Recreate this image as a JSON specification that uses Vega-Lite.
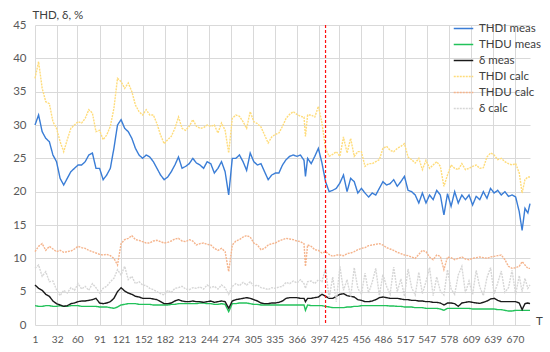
{
  "$schema": "https://vega.github.io/schema/vega-lite/v6.json",
  "width": 495,
  "height": 300,
  "autosize": "none",
  "padding": {"left": 35, "top": 25, "right": 20, "bottom": 27},
  "background": "white",
  "config": {
    "font": "Lato",
    "view": {"stroke": null},
    "axis": {"labelFont": "Lato", "labelFontSize": 11.5, "labelColor": "#595959", "gridColor": "#D9D9D9", "gridWidth": 1, "domain": false, "ticks": false, "titleFont": "Lato", "titleFontSize": 11.5, "titleFontWeight": "normal", "titleColor": "#404040", "labelOverlap": false, "labelSeparation": 0},
    "axisX": {"labelOverlap": false, "labelBound": false},
    "legend": {"labelFont": "Lato", "labelFontSize": 11.5, "labelColor": "#404040"}
  },
  "encoding": {
    "x": {
      "field": "T", "type": "quantitative",
      "scale": {"domain": [1, 691], "nice": false, "zero": false},
      "axis": {
        "values": [1, 32, 60, 91, 121, 152, 182, 213, 244, 274, 305, 335, 366, 397, 425, 456, 486, 517, 547, 578, 609, 639, 670],
        "title": "T", "titleX": 504, "titleY": -4, "titleAlign": "center", "titleBaseline": "middle",
        "labelPadding": 9, "labelFlush": false, "labelOverlap": false, "labelSeparation": 0, "labelFontSize": 10.2, "format": "d"
      }
    }
  },
  "layer": [
    {
      "data": {"values": [
        {"T":1,"THDI meas":30,"THDU meas":2.9,"δ meas":6,"THDI calc":37,"THDU calc":11,"δ calc":8.5},
        {"T":6,"THDI meas":31.5,"THDU meas":2.8,"δ meas":5.5,"THDI calc":39.5,"THDU calc":11.8,"δ calc":9},
        {"T":11,"THDI meas":29,"THDU meas":2.8,"δ meas":5.2,"THDI calc":35.5,"THDU calc":12.2,"δ calc":7.3},
        {"T":16,"THDI meas":28,"THDU meas":2.9,"δ meas":4.6,"THDI calc":33.5,"THDU calc":11.2,"δ calc":8},
        {"T":21,"THDI meas":27.5,"THDU meas":2.9,"δ meas":4.3,"THDI calc":33.2,"THDU calc":11.8,"δ calc":6.5},
        {"T":26,"THDI meas":25.5,"THDU meas":2.8,"δ meas":3.6,"THDI calc":30.5,"THDU calc":11.4,"δ calc":6.6},
        {"T":31,"THDI meas":24.5,"THDU meas":2.8,"δ meas":3.2,"THDI calc":29.5,"THDU calc":11,"δ calc":5.3},
        {"T":36,"THDI meas":22,"THDU meas":2.9,"δ meas":3,"THDI calc":27.5,"THDU calc":11.2,"δ calc":4.4},
        {"T":41,"THDI meas":21,"THDU meas":2.8,"δ meas":2.8,"THDI calc":26,"THDU calc":10.9,"δ calc":5.2},
        {"T":46,"THDI meas":22,"THDU meas":2.8,"δ meas":2.9,"THDI calc":27.8,"THDU calc":11,"δ calc":4.8},
        {"T":51,"THDI meas":23,"THDU meas":2.9,"δ meas":3.2,"THDI calc":29.5,"THDU calc":11.1,"δ calc":5.6},
        {"T":56,"THDI meas":23.5,"THDU meas":2.9,"δ meas":3.3,"THDI calc":30,"THDU calc":11.4,"δ calc":5.2},
        {"T":61,"THDI meas":24,"THDU meas":2.9,"δ meas":3.5,"THDI calc":30.5,"THDU calc":11.8,"δ calc":6.2},
        {"T":66,"THDI meas":24,"THDU meas":2.8,"δ meas":3.6,"THDI calc":30.3,"THDU calc":11.6,"δ calc":5.4},
        {"T":71,"THDI meas":24.5,"THDU meas":2.8,"δ meas":3.6,"THDI calc":31,"THDU calc":11.5,"δ calc":5.8},
        {"T":76,"THDI meas":25.5,"THDU meas":2.8,"δ meas":3.7,"THDI calc":32.3,"THDU calc":11.2,"δ calc":5.2},
        {"T":81,"THDI meas":25.8,"THDU meas":2.8,"δ meas":3.8,"THDI calc":31.8,"THDU calc":11,"δ calc":6.2},
        {"T":86,"THDI meas":23.5,"THDU meas":2.8,"δ meas":4,"THDI calc":29,"THDU calc":10.8,"δ calc":5.6},
        {"T":91,"THDI meas":23.5,"THDU meas":2.7,"δ meas":3.3,"THDI calc":29.2,"THDU calc":10.6,"δ calc":4.8},
        {"T":96,"THDI meas":21.8,"THDU meas":2.7,"δ meas":3.2,"THDI calc":27.8,"THDU calc":10.5,"δ calc":5.5},
        {"T":101,"THDI meas":22.5,"THDU meas":2.7,"δ meas":3.3,"THDI calc":28.5,"THDU calc":10.6,"δ calc":5.8},
        {"T":106,"THDI meas":23.5,"THDU meas":2.6,"δ meas":3.5,"THDI calc":29.8,"THDU calc":10.4,"δ calc":6.5},
        {"T":111,"THDI meas":26.5,"THDU meas":2.5,"δ meas":4,"THDI calc":32.5,"THDU calc":10,"δ calc":7},
        {"T":116,"THDI meas":30,"THDU meas":2.7,"δ meas":5,"THDI calc":37,"THDU calc":9,"δ calc":8.3},
        {"T":121,"THDI meas":30.8,"THDU meas":3,"δ meas":5.6,"THDI calc":36.5,"THDU calc":12.2,"δ calc":7.5},
        {"T":126,"THDI meas":29.5,"THDU meas":3.1,"δ meas":5.1,"THDI calc":35.5,"THDU calc":12.8,"δ calc":8.8},
        {"T":131,"THDI meas":29,"THDU meas":3.2,"δ meas":4.8,"THDI calc":36.3,"THDU calc":13,"δ calc":6.8},
        {"T":136,"THDI meas":28,"THDU meas":3.2,"δ meas":4.6,"THDI calc":35,"THDU calc":13.4,"δ calc":7.3},
        {"T":141,"THDI meas":26.5,"THDU meas":3.2,"δ meas":4.3,"THDI calc":33,"THDU calc":12.8,"δ calc":6.2},
        {"T":146,"THDI meas":25.5,"THDU meas":3.1,"δ meas":4.2,"THDI calc":32,"THDU calc":12.7,"δ calc":6.5},
        {"T":151,"THDI meas":25,"THDU meas":3.1,"δ meas":4,"THDI calc":31.5,"THDU calc":12.5,"δ calc":6},
        {"T":156,"THDI meas":25.5,"THDU meas":3.1,"δ meas":4,"THDI calc":32.3,"THDU calc":12.3,"δ calc":5.9},
        {"T":161,"THDI meas":25.2,"THDU meas":3.1,"δ meas":4,"THDI calc":31.5,"THDU calc":12.3,"δ calc":5.5},
        {"T":166,"THDI meas":24.5,"THDU meas":3,"δ meas":3.9,"THDI calc":31.5,"THDU calc":12.6,"δ calc":5.3},
        {"T":171,"THDI meas":23.5,"THDU meas":3,"δ meas":3.8,"THDI calc":30.2,"THDU calc":12.7,"δ calc":5},
        {"T":176,"THDI meas":22.5,"THDU meas":3,"δ meas":3.5,"THDI calc":28.5,"THDU calc":12.5,"δ calc":4.7},
        {"T":181,"THDI meas":21.8,"THDU meas":3,"δ meas":3.2,"THDI calc":27.2,"THDU calc":12.3,"δ calc":4.5},
        {"T":186,"THDI meas":22.2,"THDU meas":3,"δ meas":3.2,"THDI calc":27.8,"THDU calc":12.4,"δ calc":5.2},
        {"T":191,"THDI meas":23,"THDU meas":3.1,"δ meas":3.3,"THDI calc":28.3,"THDU calc":12.6,"δ calc":4.9},
        {"T":196,"THDI meas":24,"THDU meas":3.1,"δ meas":3.6,"THDI calc":29.5,"THDU calc":12.9,"δ calc":5.5},
        {"T":201,"THDI meas":25.2,"THDU meas":3.2,"δ meas":3.8,"THDI calc":31.2,"THDU calc":13,"δ calc":5.6},
        {"T":206,"THDI meas":23.5,"THDU meas":3.2,"δ meas":3.6,"THDI calc":29.5,"THDU calc":12.6,"δ calc":5.8},
        {"T":211,"THDI meas":23.8,"THDU meas":3.2,"δ meas":3.5,"THDI calc":29.2,"THDU calc":12.5,"δ calc":5.4},
        {"T":216,"THDI meas":24.2,"THDU meas":3.2,"δ meas":3.5,"THDI calc":29.8,"THDU calc":12.8,"δ calc":5.3},
        {"T":221,"THDI meas":25,"THDU meas":3.2,"δ meas":3.6,"THDI calc":30.8,"THDU calc":12.6,"δ calc":5.6},
        {"T":226,"THDI meas":24.3,"THDU meas":3.2,"δ meas":3.5,"THDI calc":29.8,"THDU calc":12,"δ calc":5.5},
        {"T":231,"THDI meas":24,"THDU meas":3.3,"δ meas":3.5,"THDI calc":29.5,"THDU calc":12.2,"δ calc":5.7},
        {"T":236,"THDI meas":23.5,"THDU meas":3.3,"δ meas":3.4,"THDI calc":29.6,"THDU calc":12.3,"δ calc":5.4},
        {"T":241,"THDI meas":24.5,"THDU meas":3.2,"δ meas":3.5,"THDI calc":30,"THDU calc":12.1,"δ calc":6},
        {"T":246,"THDI meas":24.2,"THDU meas":3.2,"δ meas":3.6,"THDI calc":29.8,"THDU calc":12,"δ calc":5.6},
        {"T":251,"THDI meas":22.8,"THDU meas":3.1,"δ meas":3.4,"THDI calc":30,"THDU calc":11.5,"δ calc":5.8},
        {"T":256,"THDI meas":23.5,"THDU meas":3.1,"δ meas":3.5,"THDI calc":28.8,"THDU calc":11.2,"δ calc":5.4},
        {"T":261,"THDI meas":24.5,"THDU meas":3.2,"δ meas":3.6,"THDI calc":30.3,"THDU calc":11.5,"δ calc":6},
        {"T":266,"THDI meas":23,"THDU meas":3.1,"δ meas":3.5,"THDI calc":29.2,"THDU calc":11,"δ calc":5.6},
        {"T":271,"THDI meas":19.5,"THDU meas":2,"δ meas":2.5,"THDI calc":25.8,"THDU calc":8,"δ calc":4.6},
        {"T":276,"THDI meas":25,"THDU meas":3.2,"δ meas":3.6,"THDI calc":31,"THDU calc":12,"δ calc":5.8},
        {"T":281,"THDI meas":25,"THDU meas":3.2,"δ meas":3.8,"THDI calc":31.5,"THDU calc":12.6,"δ calc":6.2},
        {"T":286,"THDI meas":25.5,"THDU meas":3.3,"δ meas":3.9,"THDI calc":31.3,"THDU calc":12.8,"δ calc":5.9},
        {"T":291,"THDI meas":24.5,"THDU meas":3.3,"δ meas":4,"THDI calc":30.5,"THDU calc":13.2,"δ calc":6.4},
        {"T":296,"THDI meas":23.2,"THDU meas":3.3,"δ meas":4.1,"THDI calc":29.5,"THDU calc":13.4,"δ calc":6},
        {"T":301,"THDI meas":25.8,"THDU meas":3.2,"δ meas":4,"THDI calc":32,"THDU calc":13.2,"δ calc":6.5},
        {"T":306,"THDI meas":24.5,"THDU meas":3.1,"δ meas":3.8,"THDI calc":30.5,"THDU calc":12.3,"δ calc":5.8},
        {"T":311,"THDI meas":24,"THDU meas":3.1,"δ meas":3.6,"THDI calc":30.2,"THDU calc":12,"δ calc":6},
        {"T":316,"THDI meas":24.2,"THDU meas":3,"δ meas":3.3,"THDI calc":29.7,"THDU calc":11.3,"δ calc":5.6},
        {"T":321,"THDI meas":23,"THDU meas":3,"δ meas":3.2,"THDI calc":28.5,"THDU calc":11.5,"δ calc":5.5},
        {"T":326,"THDI meas":21.8,"THDU meas":3,"δ meas":3.2,"THDI calc":27.3,"THDU calc":12,"δ calc":5.3},
        {"T":331,"THDI meas":22.5,"THDU meas":3,"δ meas":3.3,"THDI calc":28.2,"THDU calc":12.2,"δ calc":5.6},
        {"T":336,"THDI meas":22.8,"THDU meas":3,"δ meas":3.3,"THDI calc":28.6,"THDU calc":12.3,"δ calc":5.5},
        {"T":341,"THDI meas":22.8,"THDU meas":3,"δ meas":3.4,"THDI calc":28.8,"THDU calc":12.6,"δ calc":5.7},
        {"T":346,"THDI meas":24,"THDU meas":3,"δ meas":3.6,"THDI calc":29.8,"THDU calc":12.8,"δ calc":5.8},
        {"T":351,"THDI meas":24.8,"THDU meas":3,"δ meas":4,"THDI calc":31,"THDU calc":13,"δ calc":6.4},
        {"T":356,"THDI meas":25.3,"THDU meas":3,"δ meas":4.1,"THDI calc":31.6,"THDU calc":12.9,"δ calc":6.2},
        {"T":361,"THDI meas":25.5,"THDU meas":3,"δ meas":4.1,"THDI calc":32,"THDU calc":12.8,"δ calc":6.6},
        {"T":366,"THDI meas":25.3,"THDU meas":3,"δ meas":4.1,"THDI calc":31.6,"THDU calc":12.6,"δ calc":6.3},
        {"T":371,"THDI meas":25.5,"THDU meas":3,"δ meas":4,"THDI calc":31.3,"THDU calc":12.5,"δ calc":6.8},
        {"T":376,"THDI meas":24.7,"THDU meas":3,"δ meas":4,"THDI calc":31.2,"THDU calc":12.2,"δ calc":6.2},
        {"T":378,"THDI meas":22.3,"THDU meas":2.2,"δ meas":3.5,"THDI calc":28.3,"THDU calc":8.8,"δ calc":5.5},
        {"T":381,"THDI meas":25,"THDU meas":3,"δ meas":4,"THDI calc":31.5,"THDU calc":12,"δ calc":6.5},
        {"T":386,"THDI meas":24.2,"THDU meas":2.9,"δ meas":4,"THDI calc":31.5,"THDU calc":11.8,"δ calc":6.6},
        {"T":391,"THDI meas":25.3,"THDU meas":2.9,"δ meas":4.1,"THDI calc":31.2,"THDU calc":11.3,"δ calc":6.2},
        {"T":396,"THDI meas":26.5,"THDU meas":2.9,"δ meas":4.2,"THDI calc":32.8,"THDU calc":11.2,"δ calc":6.8},
        {"T":401,"THDI meas":24.3,"THDU meas":2.9,"δ meas":4.6,"THDI calc":30.3,"THDU calc":10.8,"δ calc":6.5},
        {"T":406,"THDI meas":21.5,"THDU meas":2.8,"δ meas":4.3,"THDI calc":26.5,"THDU calc":11,"δ calc":8.5},
        {"T":411,"THDI meas":20,"THDU meas":2.7,"δ meas":4,"THDI calc":25.3,"THDU calc":10.6,"δ calc":4},
        {"T":416,"THDI meas":20.2,"THDU meas":2.6,"δ meas":4,"THDI calc":25.6,"THDU calc":10.3,"δ calc":7.2},
        {"T":421,"THDI meas":20.5,"THDU meas":2.6,"δ meas":4.3,"THDI calc":26,"THDU calc":10.5,"δ calc":3.5},
        {"T":426,"THDI meas":21.3,"THDU meas":2.6,"δ meas":4.6,"THDI calc":25.3,"THDU calc":10.5,"δ calc":8.8},
        {"T":431,"THDI meas":22.5,"THDU meas":2.6,"δ meas":4.7,"THDI calc":28.2,"THDU calc":10.4,"δ calc":5.2},
        {"T":436,"THDI meas":20,"THDU meas":2.7,"δ meas":4.4,"THDI calc":25.8,"THDU calc":10.7,"δ calc":6.8},
        {"T":441,"THDI meas":22,"THDU meas":2.7,"δ meas":4.3,"THDI calc":28,"THDU calc":10.8,"δ calc":4.2},
        {"T":446,"THDI meas":21.5,"THDU meas":2.8,"δ meas":4.2,"THDI calc":25.3,"THDU calc":11,"δ calc":8.6},
        {"T":451,"THDI meas":19.8,"THDU meas":2.8,"δ meas":3.8,"THDI calc":26,"THDU calc":11.3,"δ calc":5.5},
        {"T":456,"THDI meas":20.5,"THDU meas":2.9,"δ meas":3.7,"THDI calc":26,"THDU calc":11.5,"δ calc":4.6},
        {"T":461,"THDI meas":19.8,"THDU meas":2.9,"δ meas":3.5,"THDI calc":23.8,"THDU calc":11.6,"δ calc":7.8},
        {"T":466,"THDI meas":19.2,"THDU meas":2.9,"δ meas":3.5,"THDI calc":24.2,"THDU calc":11.9,"δ calc":4.8},
        {"T":471,"THDI meas":19.8,"THDU meas":2.9,"δ meas":3.6,"THDI calc":24.2,"THDU calc":12,"δ calc":6.4},
        {"T":476,"THDI meas":19.5,"THDU meas":2.9,"δ meas":3.8,"THDI calc":24.5,"THDU calc":12.1,"δ calc":8.5},
        {"T":481,"THDI meas":20.5,"THDU meas":2.9,"δ meas":4.1,"THDI calc":24.8,"THDU calc":12.2,"δ calc":4.4},
        {"T":486,"THDI meas":21.5,"THDU meas":2.9,"δ meas":4.2,"THDI calc":26.5,"THDU calc":12,"δ calc":7.6},
        {"T":491,"THDI meas":21,"THDU meas":2.9,"δ meas":4.1,"THDI calc":26.8,"THDU calc":11.6,"δ calc":5.8},
        {"T":496,"THDI meas":21.2,"THDU meas":2.85,"δ meas":4,"THDI calc":26.2,"THDU calc":11.4,"δ calc":4.6},
        {"T":501,"THDI meas":21.8,"THDU meas":2.85,"δ meas":4,"THDI calc":26,"THDU calc":11.2,"δ calc":8.7},
        {"T":506,"THDI meas":20.8,"THDU meas":2.8,"δ meas":4,"THDI calc":26.5,"THDU calc":10.9,"δ calc":5},
        {"T":511,"THDI meas":21.5,"THDU meas":2.8,"δ meas":3.9,"THDI calc":26.8,"THDU calc":10.7,"δ calc":6.9},
        {"T":516,"THDI meas":22.3,"THDU meas":2.7,"δ meas":3.8,"THDI calc":27.2,"THDU calc":10.5,"δ calc":4.3},
        {"T":521,"THDI meas":20.2,"THDU meas":2.7,"δ meas":3.8,"THDI calc":25.2,"THDU calc":10.4,"δ calc":8.4},
        {"T":526,"THDI meas":20,"THDU meas":2.7,"δ meas":3.7,"THDI calc":24.8,"THDU calc":10.2,"δ calc":5.6},
        {"T":531,"THDI meas":19.5,"THDU meas":2.6,"δ meas":3.7,"THDI calc":24.3,"THDU calc":10,"δ calc":4.5},
        {"T":536,"THDI meas":18.3,"THDU meas":2.6,"δ meas":3.6,"THDI calc":25,"THDU calc":10.6,"δ calc":7.9},
        {"T":541,"THDI meas":19.8,"THDU meas":2.6,"δ meas":3.6,"THDI calc":23.3,"THDU calc":11.2,"δ calc":4.7},
        {"T":546,"THDI meas":18.3,"THDU meas":2.5,"δ meas":3.5,"THDI calc":24.7,"THDU calc":11,"δ calc":6.5},
        {"T":551,"THDI meas":19.5,"THDU meas":2.5,"δ meas":3.5,"THDI calc":23.5,"THDU calc":10.2,"δ calc":8.6},
        {"T":556,"THDI meas":18.8,"THDU meas":2.5,"δ meas":3.4,"THDI calc":24,"THDU calc":9.8,"δ calc":4.4},
        {"T":561,"THDI meas":20.2,"THDU meas":2.5,"δ meas":3.4,"THDI calc":24.5,"THDU calc":10.5,"δ calc":7.2},
        {"T":566,"THDI meas":19.5,"THDU meas":2.4,"δ meas":3.3,"THDI calc":23.8,"THDU calc":10.3,"δ calc":5.1},
        {"T":571,"THDI meas":16.5,"THDU meas":2.2,"δ meas":3,"THDI calc":20.8,"THDU calc":8.3,"δ calc":4.5},
        {"T":576,"THDI meas":19.7,"THDU meas":2.5,"δ meas":3.3,"THDI calc":22.5,"THDU calc":10.2,"δ calc":8.3},
        {"T":581,"THDI meas":17.8,"THDU meas":2.5,"δ meas":3.3,"THDI calc":24,"THDU calc":10.1,"δ calc":5.4},
        {"T":586,"THDI meas":20,"THDU meas":2.5,"δ meas":3.2,"THDI calc":23.5,"THDU calc":9.8,"δ calc":4.6},
        {"T":591,"THDI meas":18.3,"THDU meas":2.5,"δ meas":2.8,"THDI calc":23.3,"THDU calc":10,"δ calc":7.5},
        {"T":596,"THDI meas":19.5,"THDU meas":2.5,"δ meas":3.3,"THDI calc":24.2,"THDU calc":10.2,"δ calc":8.8},
        {"T":601,"THDI meas":18.8,"THDU meas":2.5,"δ meas":3.4,"THDI calc":23.3,"THDU calc":9.9,"δ calc":4.8},
        {"T":606,"THDI meas":19.5,"THDU meas":2.5,"δ meas":3.5,"THDI calc":23.5,"THDU calc":9.8,"δ calc":6.6},
        {"T":611,"THDI meas":18,"THDU meas":2.4,"δ meas":3.4,"THDI calc":23.8,"THDU calc":10,"δ calc":4.6},
        {"T":616,"THDI meas":19.3,"THDU meas":2.4,"δ meas":3.3,"THDI calc":24,"THDU calc":10.1,"δ calc":8.2},
        {"T":621,"THDI meas":18.8,"THDU meas":2.4,"δ meas":3.25,"THDI calc":23.5,"THDU calc":10.2,"δ calc":5.7},
        {"T":626,"THDI meas":20,"THDU meas":2.4,"δ meas":3.4,"THDI calc":23.6,"THDU calc":10.1,"δ calc":4.4},
        {"T":631,"THDI meas":19,"THDU meas":2.4,"δ meas":3.6,"THDI calc":25.2,"THDU calc":10,"δ calc":7.1},
        {"T":636,"THDI meas":20.5,"THDU meas":2.4,"δ meas":3.9,"THDI calc":25.8,"THDU calc":10.2,"δ calc":8.6},
        {"T":641,"THDI meas":19.8,"THDU meas":2.4,"δ meas":4,"THDI calc":25.5,"THDU calc":10.3,"δ calc":4.7},
        {"T":646,"THDI meas":20.2,"THDU meas":2.3,"δ meas":3.7,"THDI calc":24.8,"THDU calc":10.4,"δ calc":6.3},
        {"T":651,"THDI meas":19.5,"THDU meas":2.3,"δ meas":3.5,"THDI calc":25,"THDU calc":10.5,"δ calc":8.1},
        {"T":656,"THDI meas":20,"THDU meas":2.2,"δ meas":3.5,"THDI calc":24.5,"THDU calc":9.8,"δ calc":4.9},
        {"T":661,"THDI meas":19.3,"THDU meas":2.1,"δ meas":3.5,"THDI calc":24.2,"THDU calc":8.8,"δ calc":5.6},
        {"T":666,"THDI meas":19.5,"THDU meas":2.1,"δ meas":3.5,"THDI calc":24,"THDU calc":8.5,"δ calc":8.2},
        {"T":671,"THDI meas":19.2,"THDU meas":2.2,"δ meas":3.5,"THDI calc":24.2,"THDU calc":8.6,"δ calc":4.6},
        {"T":676,"THDI meas":17,"THDU meas":2.2,"δ meas":3.3,"THDI calc":22.8,"THDU calc":8.8,"δ calc":7.4},
        {"T":680,"THDI meas":14.2,"THDU meas":2.2,"δ meas":2.3,"THDI calc":19.8,"THDU calc":9.5,"δ calc":5},
        {"T":684,"THDI meas":17.5,"THDU meas":2.2,"δ meas":3.2,"THDI calc":21.8,"THDU calc":9,"δ calc":7},
        {"T":688,"THDI meas":16.8,"THDU meas":2.2,"δ meas":3.3,"THDI calc":22.2,"THDU calc":8.5,"δ calc":5.5},
        {"T":691,"THDI meas":18.2,"THDU meas":2.2,"δ meas":3.2,"THDI calc":22.2,"THDU calc":8.5,"δ calc":6}
      ]},
      "transform": [
        {"fold": ["THDI meas", "THDU meas", "δ meas", "THDI calc", "THDU calc", "δ calc"], "as": ["series", "value"]}
      ],
      "mark": {"type": "line", "interpolate": "linear"},
      "encoding": {
        "y": {
          "field": "value", "type": "quantitative",
          "scale": {"domain": [0, 45], "nice": false},
          "axis": {
            "values": [0, 5, 10, 15, 20, 25, 30, 35, 40, 45],
            "title": "THD, δ, %", "titleAngle": 0, "titleX": -3, "titleY": -10, "titleAlign": "left", "titleBaseline": "middle",
            "labelPadding": 9
          }
        },
        "color": {
          "field": "series", "type": "nominal",
          "scale": {
            "domain": ["THDI meas", "THDU meas", "δ meas", "THDI calc", "THDU calc", "δ calc"],
            "range": ["#3A7DD6", "#22C25A", "#1A1A1A", "#FFDC7A", "#F5B48C", "#D6D6D6"]
          },
          "legend": {
            "title": null, "orient": "none", "legendX": 418, "legendY": -7,
            "symbolType": "stroke", "symbolSize": 380, "symbolStrokeWidth": 1.5,
            "labelOffset": 5, "rowPadding": 0, "padding": 0
          }
        },
        "strokeDash": {
          "field": "series", "type": "nominal",
          "scale": {
            "domain": ["THDI meas", "THDU meas", "δ meas", "THDI calc", "THDU calc", "δ calc"],
            "range": [[1, 0], [1, 0], [1, 0], [2, 1], [2, 1], [2, 1]]
          },
          "legend": null
        },
        "strokeWidth": {
          "field": "series", "type": "nominal",
          "scale": {
            "domain": ["THDI meas", "THDU meas", "δ meas", "THDI calc", "THDU calc", "δ calc"],
            "range": [1.4, 1.4, 1.4, 1.2, 1.2, 1.2]
          },
          "legend": null
        }
      }
    },
    {
      "data": {"values": [{"T": 406}]},
      "mark": {"type": "rule", "stroke": "#FF1010", "strokeDash": [3, 2], "strokeWidth": 1.2},
      "encoding": {}
    }
  ]
}
